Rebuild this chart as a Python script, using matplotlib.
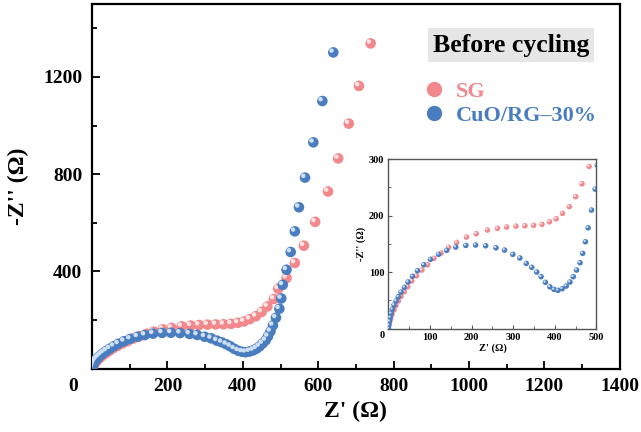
import matplotlib
matplotlib.use("Agg")
import matplotlib.pyplot as plt
from matplotlib.lines import Line2D
from matplotlib.transforms import ScaledTranslation
from matplotlib.ticker import MultipleLocator

plt.rcParams["font.family"] = ["Liberation Serif", "DejaVu Serif"]
plt.rcParams["font.weight"] = "bold"

# SG (Z', -Z'')
sg_x = [2.5, 5.3, 8.5, 13.3, 18, 23.8, 30.3, 38.3, 46.5, 56, 67.3, 80.4, 94,
        109.4, 126.4, 144.8, 164, 187.6, 211, 237.8, 262, 283.8, 306.3, 328,
        349, 369, 387, 403, 418.4, 434.6, 449.9, 465.4, 482.3, 494, 516, 538,
        562, 592, 626, 653, 681, 708, 739]
sg_y = [10, 17, 25, 33, 41, 49, 57.2, 65.4, 74.2, 84.3, 93.6, 103.7, 113,
        124.4, 133.7, 143.8, 152.6, 162, 167.9, 174.4, 177.4, 179.7, 181.3, 182,
        182.7, 184.5, 189, 194.3, 203.9, 215.7, 233.4, 256.2, 286.9, 329, 373,
        435, 506, 604, 729, 865, 1008, 1163, 1338]

# CuO/RG-30%
cu_x = [0, 1, 2.5, 4.5, 6.3, 9.3, 13.3, 18.2, 23.8, 30.3, 38.3, 47.2, 57.7,
        69.8, 85, 101, 120.6, 140, 161.8, 186, 209.4, 233.7, 258.6, 279, 299,
        316, 331.3, 344.4, 356.4, 366.9, 377.3, 388, 398, 407.3, 417.7, 427.4,
        436.3, 444.3, 452.3, 460.5, 466.9, 473.4, 480, 488, 496.9, 502, 506,
        516, 527, 538, 549, 565, 587, 611, 640]
cu_y = [0.5, 6, 13, 20, 27, 34.2, 41.9, 49, 56.5, 64.8, 73, 82.5, 92.6, 102.5,
        113, 122.6, 131.4, 138.5, 144.3, 147.3, 147.9, 146.6, 143, 139, 131.4,
        125, 115.5, 108.5, 100.2, 91.9, 82, 74, 69.5, 67.8, 70.7, 75.4, 82.5,
        91.9, 103.7, 116.6, 133.2, 153.7, 178.4, 209.7, 246.8, 289, 345, 407,
        480, 565, 664, 786, 931, 1101, 1301]

pink = "#f2878c"
pink_hi = "#fde3e4"
blue = "#4a7dbf"
blue_hi = "#cfe0f5"

fig = plt.figure(figsize=(6.41, 4.32), dpi=100)
ax = fig.add_axes([0.1435, 0.1465, 0.8235, 0.8442])


def spheres(a, x, y, col, hi, s, off):
    a.scatter(x, y, s=s, color=col, edgecolors="none", zorder=3, clip_on=True)
    tr = a.transData + ScaledTranslation(-off / 72, off / 72, fig.dpi_scale_trans)
    a.scatter(x, y, s=s * 0.18, color=hi, edgecolors="none", zorder=3,
              transform=tr, clip_on=True)


spheres(ax, sg_x, sg_y, pink, pink_hi, 58, 1.3)
spheres(ax, cu_x, cu_y, blue, blue_hi, 58, 1.3)

ax.set_xlim(0, 1400)
ax.set_ylim(0, 1500)
ax.xaxis.set_major_locator(MultipleLocator(200))
ax.xaxis.set_minor_locator(MultipleLocator(100))
ax.set_yticks([400, 800, 1200])
ax.yaxis.set_minor_locator(MultipleLocator(200))
ax.set_xticks([200, 400, 600, 800, 1000, 1200, 1400])
ax.tick_params(which="both", direction="in", labelsize=14, width=1.3)
ax.tick_params(which="major", length=6, pad=7)
ax.tick_params(which="minor", length=3.5)
for sp in ax.spines.values():
    sp.set_linewidth(1.6)
ax.text(-0.035, -0.048, "0", transform=ax.transAxes, fontsize=14,
        fontweight="bold", ha="center", va="center")
ax.set_xlabel("Z' (Ω)", fontsize=17, fontweight="bold", labelpad=4)
ax.set_ylabel("-Z'' (Ω)", fontsize=17, fontweight="bold", labelpad=10)

ax.text(0.7936, 0.8876, "Before cycling", transform=ax.transAxes, fontsize=18.5,
        fontweight="bold", ha="center", va="center",
        bbox=dict(boxstyle="square,pad=0.2", fc="#e6e6e6", ec="none"))
handles = [Line2D([], [], ls="none", marker="o", ms=10, color=pink, mec=pink),
           Line2D([], [], ls="none", marker="o", ms=10, color=blue, mec=blue)]
leg = ax.legend(handles, ["SG", "CuO/RG–30%"], loc="upper left",
                bbox_to_anchor=(0.584, 0.843), frameon=False, handletextpad=0.4,
                handlelength=1.2, labelspacing=0.15, prop=dict(size=16, weight="bold"),
                labelcolor=[pink, blue])

# inset
ins = fig.add_axes([0.606, 0.2391, 0.3245, 0.3928])
spheres(ins, sg_x, sg_y, pink, pink_hi, 16, 0.6)
spheres(ins, cu_x, cu_y, blue, blue_hi, 16, 0.6)
ins.set_xlim(0, 500)
ins.set_ylim(0, 300)
ins.set_xticks([100, 200, 300, 400, 500])
ins.set_yticks([100, 200, 300])
ins.xaxis.set_minor_locator(MultipleLocator(50))
ins.yaxis.set_minor_locator(MultipleLocator(50))
ins.tick_params(which="both", direction="in", labelsize=7.5, pad=3, color="#555555")
ins.tick_params(which="major", length=3)
ins.tick_params(which="minor", length=2)
for sp in ins.spines.values():
    sp.set_linewidth(1.0)
    sp.set_color("#555555")
ins.text(-0.03, -0.04, "0", transform=ins.transAxes, fontsize=7.5,
         fontweight="bold", ha="center", va="center")
ins.set_xlabel("Z' (Ω)", fontsize=7.5, fontweight="bold", labelpad=1)
ins.set_ylabel("-Z'' (Ω)", fontsize=7.5, fontweight="bold", labelpad=2)

fig.savefig("out.png", dpi=100)
